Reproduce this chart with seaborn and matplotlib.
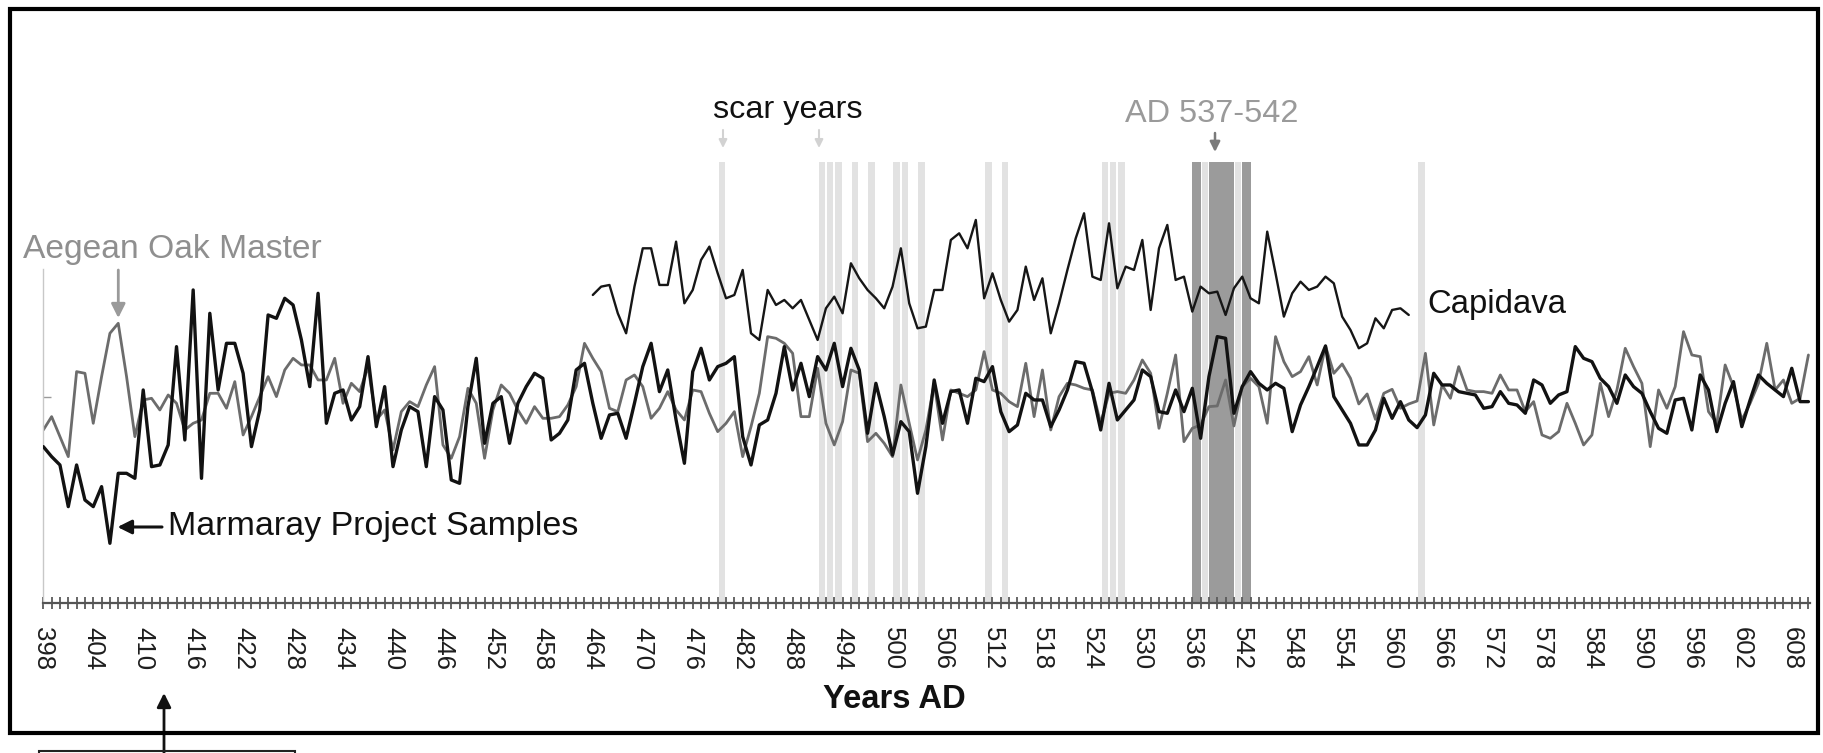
import numpy as np
import pandas as pd
import matplotlib
matplotlib.use("Agg")
import matplotlib.pyplot as plt
import seaborn as sns
from matplotlib.patches import Rectangle

# ---------------- data (ring-width index, arbitrary units; reference tick = 620) -------------
years_main = list(range(398, 611))
marmaray = [
    470, 440, 415, 290, 415, 310, 290, 350, 180, 390,
    390, 375, 640, 410, 415, 475, 770, 490, 940, 375,
    870, 640, 780, 780, 690, 470, 580, 865, 855, 915,
    895, 790, 650, 930, 540, 630, 640, 550, 590, 740,
    530, 650, 410, 520, 590, 575, 410, 620, 580, 370,
    360, 590, 735, 480, 600, 620, 480, 600, 650, 690,
    675, 490, 510, 550, 700, 720, 600, 495, 565, 570,
    495, 600, 710, 780, 635, 700, 550, 420, 695, 765,
    670, 710, 720, 740, 500, 415, 535, 550, 630, 770,
    640, 720, 620, 740, 700, 780, 650, 765, 700, 510,
    660, 560, 445, 545, 515, 330, 470, 670, 540, 635,
    640, 540, 675, 665, 710, 575, 515, 535, 630, 610,
    610, 530, 580, 640, 725, 720, 635, 520, 660, 550,
    580, 610, 700, 680, 575, 570, 640, 575, 645, 495,
    680, 800, 795, 570, 650, 695, 660, 640, 660, 645,
    515, 595, 650, 710, 772, 620, 580, 540, 475, 475,
    520, 615, 555, 605, 550, 527, 565, 690, 655, 655,
    635, 630, 625, 585, 590, 635, 600, 595, 570, 670,
    655, 600, 625, 635, 770, 735, 725, 675, 650, 600,
    685, 650, 630, 575, 525, 510, 610, 615, 520, 685,
    640, 515, 600, 665, 530, 610, 685, 660, 640, 620,
    705, 605, 605,
]
aegean = [
    520, 560, 500, 440, 695, 690, 540, 680, 810, 840,
    680, 500, 610, 615, 580, 625, 600, 520, 540, 550,
    630, 630, 585, 665, 505, 560, 620, 680, 620, 700,
    735, 715, 715, 670, 670, 735, 600, 660, 635, 710,
    550, 580, 460, 575, 605, 590, 655, 710, 475, 435,
    500, 645, 600, 435, 580, 655, 630, 580, 540, 590,
    555, 555, 560, 595, 650, 780, 735, 695, 585, 575,
    670, 685, 650, 555, 585, 635, 580, 550, 640, 635,
    570, 515, 540, 575, 440, 530, 630, 800, 795, 780,
    750, 560, 560, 705, 540, 475, 545, 700, 690, 485,
    510, 480, 440, 655, 540, 430, 520, 660, 490, 640,
    630, 620, 640, 755, 640, 630, 605, 590, 720, 560,
    700, 520, 620, 660, 655, 645, 640, 540, 630, 635,
    630, 670, 730, 690, 525, 630, 745, 485, 525, 535,
    590, 592, 670, 532, 650, 675, 650, 540, 800, 725,
    680, 695, 740, 655, 772, 690, 718, 675, 598, 628,
    552, 630, 642, 585, 598, 607, 750, 535, 655, 615,
    710, 640, 635, 635, 630, 685, 640, 640, 575, 605,
    505, 495, 515, 600, 540, 475, 505, 660, 560, 640,
    765, 710, 660, 470, 640, 585, 650, 815, 745, 740,
    575, 540, 715, 650, 550, 600, 660, 780, 640, 670,
    600, 615, 745,
]
years_capidava = list(range(464, 563))
capidava = [
    925, 950, 955, 870, 810, 950, 1065, 1065, 955, 955,
    1085, 900, 940, 1030, 1070, 990, 915, 925, 1000, 810,
    790, 940, 895, 910, 885, 910, 850, 790, 885, 920,
    870, 1020, 975, 940, 915, 885, 950, 1065, 900, 825,
    830, 940, 940, 1090, 1110, 1065, 1150, 915, 990, 910,
    845, 880, 1010, 910, 975, 810, 900, 1000, 1095, 1170,
    980, 970, 1140, 945, 1010, 1000, 1090, 880, 1065, 1135,
    970, 980, 875, 950, 930, 935, 865, 945, 980, 915,
    900, 1115, 990, 860, 930, 965, 940, 950, 980, 960,
    860, 820, 765, 780, 855, 825, 880, 885, 865,
]
scar_years = [480, 492, 493, 494, 496, 498, 501, 502, 504, 512, 514,
              526, 527, 528, 538, 542, 564]
event_years = [537, 539, 540, 541, 543]
tick_years = list(range(398, 609, 6))
reference_level = 620

df_main = pd.DataFrame({"year": years_main, "Marmaray": marmaray, "Aegean": aegean})
df_cap = pd.DataFrame({"year": years_capidava, "Capidava": capidava})

# ---------------- layout ----------------
W, H = 1824, 753
sns.set_style("white")
plt.rcParams["font.family"] = ["Liberation Sans", "DejaVu Sans"]

fig = plt.figure(figsize=(W / 100, H / 100), dpi=100)
x_lo, x_hi = 398, 610.2
px_per_year = 8.326
ax_left_px, ax_base_px, ax_top_px = 43.3, 603.3, 20.0
ax = fig.add_axes([ax_left_px / W, (H - ax_base_px) / H,
                   (x_hi - x_lo) * px_per_year / W, (ax_base_px - ax_top_px) / H])
ax.set_xlim(x_lo, x_hi)
ax.set_ylim(0, (ax_base_px - ax_top_px) * 3)
ax.patch.set_alpha(0)

bar_top = 1325
ax.bar(np.array(scar_years) - 0.5, bar_top, width=0.78, color="#e2e2e2",
       linewidth=0, zorder=0)
ax.bar(np.array(event_years) - 0.5, bar_top, width=1.1, color="#9b9b9b",
       linewidth=0, zorder=0.5)

sns.lineplot(data=df_main, x="year", y="Aegean", ax=ax, color="#6c6c6c",
             linewidth=2.0, estimator=None, legend=False, zorder=2)
sns.lineplot(data=df_main, x="year", y="Marmaray", ax=ax, color="#121212",
             linewidth=2.4, estimator=None, legend=False, zorder=3)
sns.lineplot(data=df_cap, x="year", y="Capidava", ax=ax, color="#161616",
             linewidth=1.7, estimator=None, legend=False, zorder=3)

ax.set_xlabel("")
ax.set_ylabel("")
for s in ("top", "right"):
    ax.spines[s].set_visible(False)
ax.spines["left"].set_color("#c8c8c8")
ax.spines["left"].set_linewidth(1.0)
ax.spines["left"].set_bounds(0, 1003)
ax.spines["bottom"].set_color("#555555")
ax.spines["bottom"].set_linewidth(1.6)

ax.set_xticks(tick_years)
ax.set_xticklabels([str(t) for t in tick_years], rotation=-90, fontsize=18.5,
                   color="#1e1e1e")
ax.set_xticks(years_main, minor=True)
ax.tick_params(axis="x", which="both", direction="inout", length=9, width=1.3,
               color="#5a5a5a", bottom=True)
ax.tick_params(axis="x", which="major", pad=12.5)
ax.set_yticks([reference_level])
ax.set_yticklabels([])
ax.tick_params(axis="y", direction="in", length=6, width=1.0, color="#9a9a9a", left=True)


def fp(x, y):
    return (x, H - y)


def arrow(x0, y0, x1, y1, color, lw, scale, hl=0.6, hw=0.3):
    ax.annotate("", xy=fp(x1, y1), xytext=fp(x0, y0), xycoords="figure pixels",
                textcoords="figure pixels",
                arrowprops=dict(arrowstyle=f"-|>,head_length={hl},head_width={hw}",
                                lw=lw, color=color, mutation_scale=scale,
                                shrinkA=0, shrinkB=0))


def label(text, x, y, color, size=24, **kw):
    ax.annotate(text, xy=fp(x, y), xycoords="figure pixels", color=color,
                fontsize=size, **kw)


label("Aegean Oak Master", 23, 258, "#8f8f8f", size=24.2, va="baseline", ha="left")
arrow(118.3, 270, 118.3, 318, "#9a9a9a", 2.0, 14)
label("Marmaray Project Samples", 168, 535, "#111111", size=24.5, va="baseline", ha="left")
arrow(162, 527, 117.5, 527, "#111111", 2.2, 14)
label("Capidava", 1427, 313, "#111111", size=23.7, va="baseline", ha="left")
label("scar years", 713, 118, "#111111", size=23.3, va="baseline", ha="left")
for xs in (723, 819):
    arrow(xs, 130, xs, 148, "#d2d2d2", 1.5, 8)
label("AD 537-542", 1125, 122, "#9a9a9a", size=23.4, va="baseline", ha="left")
arrow(1215, 133, 1215, 152, "#7a7a7a", 1.8, 10)
label("Years AD", 894.6, 700, "#111111", size=23.6, fontweight="bold",
      va="center", ha="center")

fig.add_artist(Rectangle((10 / W, (H - 733) / H), (1818 - 10) / W, (733 - 9) / H,
                         transform=fig.transFigure, fill=False, lw=3, ec="black"))
fig.add_artist(Rectangle((39 / W, (H - 790) / H), 256 / W, (790 - 751) / H,
                         transform=fig.transFigure, fill=False, lw=1.5, ec="#222222"))
arrow(164, 753, 164, 693, "#111111", 2.0, 14)

fig.savefig("out.png", dpi=100, facecolor="white")
